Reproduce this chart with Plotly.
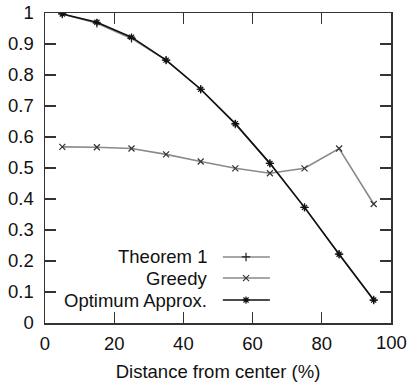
import plotly.graph_objects as go

x_vals = [5, 15, 25, 35, 45, 55, 65, 75, 85, 95]
theorem1 = [0.997, 0.967, 0.918, 0.848, 0.754, 0.642, 0.515, 0.373, 0.222, 0.074]
greedy = [0.568, 0.567, 0.563, 0.544, 0.521, 0.499, 0.483, 0.499, 0.563, 0.384]
optimum = [0.997, 0.970, 0.922, 0.848, 0.754, 0.643, 0.515, 0.373, 0.222, 0.074]
series_names = ["Theorem 1", "Greedy", "Optimum Approx."]
x_tick_vals = [0, 20, 40, 60, 80, 100]
x_tick_text = ["0", "20", "40", "60", "80", "100"]

FONT = "Liberation Sans, Arial, sans-serif"
FS = 18.5
styles = [
    dict(color="#8a8a8a", symbol="cross-thin", lc="#222"),
    dict(color="#8a8a8a", symbol="x-thin", lc="#333"),
    dict(color="#111111", symbol="asterisk", lc="#111"),
]
data = [theorem1, greedy, optimum]

fig = go.Figure()
for name, ys, st in zip(series_names, data, styles):
    fig.add_trace(go.Scatter(
        x=x_vals, y=ys, mode="lines+markers", name=name, showlegend=False,
        line=dict(color=st["color"], width=1.6),
        marker=dict(symbol=st["symbol"], size=6, line=dict(color=st["lc"], width=1.2)),
    ))

# custom legend (text right, sample to the right), gnuplot style
leg_y = [0.213, 0.145, 0.074]
for name, ly, st in zip(series_names, leg_y, styles):
    fig.add_trace(go.Scatter(
        x=[0.514, 0.65], y=[ly, ly], mode="lines", xaxis="x2", yaxis="y2",
        showlegend=False, hoverinfo="skip",
        line=dict(color=st["color"], width=1.6),
    ))
    fig.add_trace(go.Scatter(
        x=[0.581], y=[ly], mode="markers", xaxis="x2", yaxis="y2",
        showlegend=False, hoverinfo="skip",
        marker=dict(symbol=st["symbol"], size=6, line=dict(color=st["lc"], width=1.2)),
    ))
    fig.add_annotation(
        x=0.474, y=ly, xref="paper", yref="paper", text=name, showarrow=False,
        xanchor="right", yanchor="middle", font=dict(family=FONT, size=FS, color="#111"),
    )

# last x tick label drawn as annotation so it is not hidden at the page edge
fig.add_annotation(
    x=x_tick_vals[-1], y=0, xref="x", yref="paper", text=x_tick_text[-1], showarrow=False,
    xanchor="center", yanchor="middle", yshift=-19,
    font=dict(family=FONT, size=FS, color="#111"),
)

axis_common = dict(
    showgrid=False, zeroline=False, showline=True, linecolor="#333", linewidth=1.5,
    mirror="ticks", ticks="inside", ticklen=11, tickwidth=1.3, tickcolor="#333",
    tickfont=dict(family=FONT, size=FS, color="#111"), automargin=False,
    ticklabeloverflow="allow",
)
fig.update_layout(
    width=409, height=392,
    margin=dict(l=45, r=18, t=13, b=69),
    paper_bgcolor="white", plot_bgcolor="white",
    xaxis=dict(range=[0, 100], tickmode="array", tickvals=x_tick_vals,
               ticktext=x_tick_text[:-1] + [""], ticklabelstandoff=3,
               title=dict(text="Distance from center (%)", font=dict(family=FONT, size=FS, color="#111"), standoff=12),
               **axis_common),
    yaxis=dict(range=[0, 1], dtick=0.1, tick0=0, ticklabelstandoff=6, **axis_common),
    xaxis2=dict(range=[0, 1], overlaying="x", visible=False),
    yaxis2=dict(range=[0, 1], overlaying="y", visible=False),
)

fig.write_html(
    "out.html",
    config={"displayModeBar": False, "staticPlot": True},
    post_script="document.body.style.margin='0';document.body.style.overflow='hidden';",
)
